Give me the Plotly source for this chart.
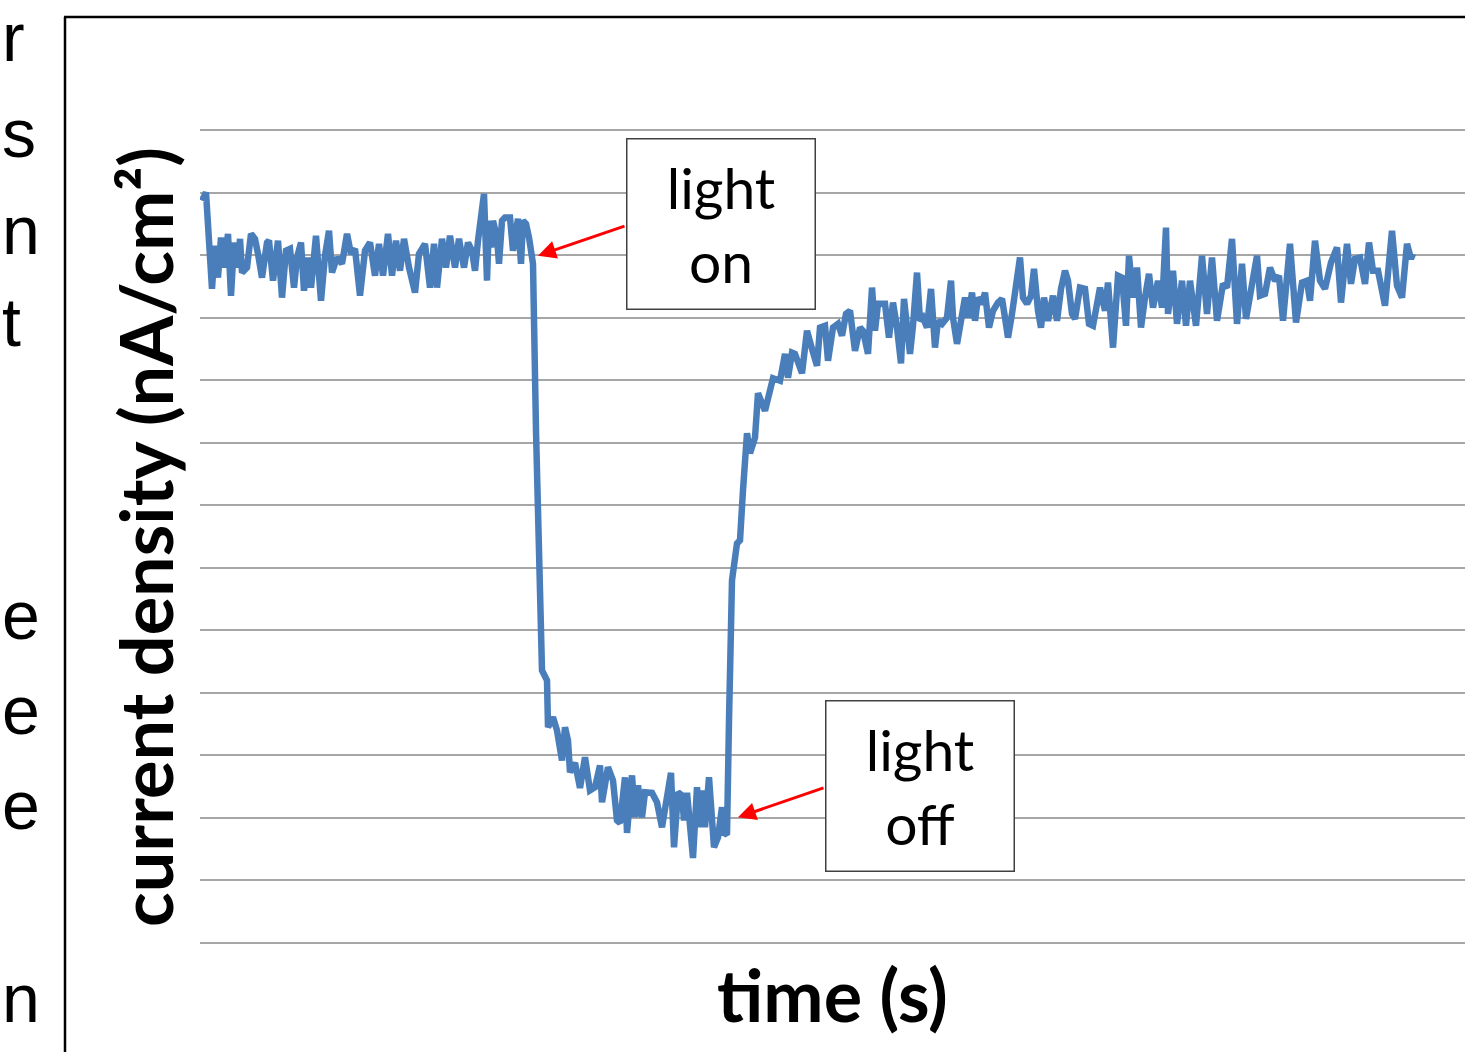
import plotly.graph_objects as go

# ---------------- data ----------------
time_s = [
    2, 6, 12, 15, 18, 21, 24, 28, 31, 34, 38, 40, 42, 47, 51, 55, 58, 62, 67, 69,
    73, 78, 82, 86, 90, 94, 97, 101, 104, 108, 111, 116, 121, 125, 129, 132, 137, 142, 147, 151,
    155, 160, 165, 170, 175, 179, 183, 188, 192, 196, 200, 204, 209, 215, 219, 225, 230, 234, 237, 242,
    246, 250, 255, 259, 264, 268, 272, 275, 278, 281, 284, 287, 289, 291, 293, 297, 299, 302, 305, 310,
    313, 318, 321, 323, 326, 329, 332, 333, 336, 338, 340, 342, 347, 348, 353, 357, 362, 365, 368, 370,
    375, 380, 385, 390, 395, 400, 402, 408, 413, 417, 420, 425, 427, 432, 435, 438, 442, 445, 452, 457,
    462, 467, 471, 474, 478, 482, 484, 487, 490, 493, 497, 500, 503, 505, 509, 514, 518, 522, 524, 527,
    529, 530, 532, 537, 540, 543, 547, 550, 555, 558, 565, 573, 580, 585, 588, 592, 595, 602, 607, 612,
    617, 620, 625, 628, 633, 638, 642, 646, 650, 655, 660, 663, 668, 672, 675, 678, 685, 689, 693, 697,
    701, 704, 707, 710, 713, 717, 720, 723, 727, 731, 735, 738, 742, 747, 751, 753, 757, 762, 765, 768,
    772, 775, 778, 782, 785, 789, 793, 798, 802, 805, 808, 812, 815, 820, 823, 827, 831, 834, 838, 841,
    844, 848, 853, 857, 861, 865, 868, 872, 875, 880, 885, 889, 893, 900, 905, 908, 913, 918, 922, 926,
    929, 933, 937, 941, 945, 949, 953, 958, 962, 966, 968, 973, 977, 982, 986, 990, 996, 1002, 1007, 1012,
    1017, 1023, 1027, 1032, 1037, 1042, 1046, 1052, 1057, 1060, 1065, 1070, 1075, 1079, 1083, 1090, 1096, 1102, 1107, 1110,
    1115, 1120, 1125, 1131, 1137, 1141, 1147, 1151, 1155, 1160, 1165, 1169, 1173, 1178, 1185, 1192, 1197, 1202, 1207, 1211,
    1213,
]

current_density = [
    11.87, 12.00, 10.46, 11.15, 10.64, 11.28, 10.80, 11.34, 10.35, 11.20, 10.80, 11.26, 10.72, 10.80, 11.34, 11.26, 11.02, 10.64, 11.20, 11.23,
    10.59, 11.23, 10.32, 11.07, 11.10, 10.48, 10.96, 11.20, 10.43, 10.96, 10.48, 11.31, 10.27, 10.99, 11.39, 10.72, 10.96, 10.86, 11.34, 11.02,
    11.10, 10.35, 11.07, 11.20, 10.67, 11.18, 10.67, 11.34, 10.67, 11.23, 10.75, 11.26, 10.80, 10.40, 11.02, 11.18, 10.48, 11.18, 10.48, 11.26,
    10.80, 11.31, 10.80, 11.26, 10.80, 11.20, 11.07, 10.75, 11.23, 11.58, 11.98, 10.59, 11.55, 11.12, 11.55, 11.28, 10.86, 11.55, 11.60, 11.60,
    11.07, 11.58, 10.86, 11.55, 11.50, 11.28, 10.96, 10.86, 8.19, 6.60, 5.00, 4.36, 4.20, 3.45, 3.61, 3.40, 2.92, 3.45, 3.24, 2.73,
    2.88, 2.48, 2.97, 2.44, 2.49, 2.84, 2.25, 2.81, 2.60, 1.96, 1.92, 2.65, 1.76, 2.68, 2.01, 2.52, 2.01, 2.41, 2.40, 2.25,
    1.85, 2.40, 2.72, 1.53, 2.41, 2.36, 1.96, 2.40, 1.76, 1.36, 2.49, 1.85, 2.44, 1.85, 2.65, 1.53, 1.69, 2.17, 1.76, 1.73,
    3.56, 5.00, 5.80, 6.39, 6.44, 7.24, 8.15, 7.83, 8.08, 8.79, 8.51, 9.03, 8.99, 9.42, 9.04, 9.44, 9.42, 9.11, 9.79, 9.50,
    9.23, 9.84, 9.87, 9.31, 9.84, 9.90, 9.71, 10.06, 10.11, 9.47, 9.84, 9.79, 9.42, 10.48, 9.79, 10.22, 10.22, 9.68, 10.24, 9.84,
    9.27, 10.30, 9.79, 9.42, 9.87, 10.72, 9.95, 10.00, 9.84, 10.46, 9.52, 9.95, 9.90, 10.00, 10.59, 10.00, 9.58, 10.16, 10.32, 10.00,
    10.40, 9.95, 10.32, 10.22, 10.40, 9.84, 10.11, 10.24, 10.30, 10.00, 9.68, 10.06, 10.40, 10.96, 10.32, 10.22, 10.35, 10.78, 10.11, 9.84,
    10.32, 9.95, 10.35, 9.95, 10.46, 10.75, 10.59, 10.06, 9.98, 10.48, 10.46, 9.90, 9.87, 10.48, 10.11, 10.56, 9.52, 10.67, 10.64, 9.87,
    10.99, 10.32, 10.80, 9.84, 10.32, 10.70, 10.16, 10.59, 10.16, 11.44, 10.06, 10.75, 9.90, 10.59, 9.87, 10.59, 9.87, 10.99, 10.06, 10.96,
    9.95, 10.54, 10.48, 11.26, 9.90, 10.86, 9.98, 10.48, 10.99, 10.35, 10.38, 10.80, 10.59, 10.67, 9.95, 11.18, 9.92, 10.56, 10.59, 10.27,
    11.23, 10.59, 10.46, 10.88, 11.12, 10.24, 11.18, 10.54, 10.94, 10.96, 10.54, 11.20, 10.75, 10.75, 10.19, 11.39, 10.51, 10.32, 11.18, 10.94,
    11.02,
]

# annotation labels / arrow endpoints (data units)
label_texts = ["light<br>on", "light<br>off"]
label_centers = [(521, 11.49), (720, 2.51)]
arrow_tips = [(338, 10.99), (538, 2.01)]
arrow_tails = [(426, 11.47), (625, 2.49)]

x_title = "time (s)"
y_title = "current density (nA/cm²)"

# slide text fragments visible at the left edge
side_texts = ["r", "s", "n", "t", "e", "e", "e", "n"]

# ---------------- layout helpers ----------------
W, H = 1465, 1052
GRID_PX = (943 - 130) / 13          # pixel height of one grid step
ML, MR, MT, MB = 200, 0, 120, 99    # plot area 10 px beyond the outer grid lines
PW, PH = W - ML - MR, H - MT - MB
Y_LO = -10 / GRID_PX
Y_HI = 13 + 10 / GRID_PX


def px(x):
    return (x - ML) / PW


def py(y):
    return (H - MB - y) / PH


fig = go.Figure()
fig.add_trace(go.Scatter(
    x=time_s, y=current_density, mode="lines",
    line=dict(color="#4A7EBB", width=6.5),
    hoverinfo="skip", showlegend=False,
))

annotations = []
for txt, (cx, cy) in zip(label_texts, label_centers):
    annotations.append(dict(
        x=cx, y=cy, xref="x", yref="y", text=txt, showarrow=False,
        font=dict(family="Lato", size=57, color="black"),
        width=187, height=169, bgcolor="white",
        bordercolor="#404040", borderwidth=1.5, borderpad=0,
        xanchor="center", yanchor="middle", align="center", valign="middle",
    ))
for (tx, ty), (ax, ay) in zip(arrow_tips, arrow_tails):
    annotations.append(dict(
        x=tx, y=ty, ax=ax, ay=ay, xref="x", yref="y", axref="x", ayref="y",
        text="", showarrow=True, arrowcolor="#FF0000", arrowwidth=3,
        arrowhead=2, arrowsize=1.2, standoff=0, startstandoff=0,
    ))
annotations.append(dict(
    x=px(832), y=py(994), xref="paper", yref="paper", text=f"<b>{x_title}</b>",
    showarrow=False, font=dict(family="Lato", size=72, color="black"),
    xanchor="center", yanchor="middle",
))
annotations.append(dict(
    x=px(145), y=py(537), xref="paper", yref="paper", text=f"<b>{y_title}</b>",
    showarrow=False, font=dict(family="Lato", size=72, color="black"),
    textangle=-90, xanchor="center", yanchor="middle",
))
side_mid = [37, 133, 230, 322, 615, 710, 805, 998]
for t, my in zip(side_texts, side_mid):
    annotations.append(dict(
        x=px(1), y=py(my), xref="paper", yref="paper", text=t, showarrow=False,
        font=dict(family="Liberation Sans", size=68, color="black"),
        xanchor="left", yanchor="middle", borderpad=0,
    ))

shapes = [
    dict(type="line", xref="paper", yref="paper", x0=px(65), x1=px(65), y0=py(17), y1=py(1060),
         line=dict(color="black", width=2.5)),
    dict(type="line", xref="paper", yref="paper", x0=px(64), x1=px(1470), y0=py(17), y1=py(17),
         line=dict(color="black", width=2.5)),
]

fig.update_layout(
    width=W, height=H,
    margin=dict(l=ML, r=MR, t=MT, b=MB, pad=0),
    paper_bgcolor="white", plot_bgcolor="white",
    xaxis=dict(range=[0, PW], showgrid=False, showticklabels=False, ticks="",
               zeroline=False, showline=False),
    yaxis=dict(range=[Y_LO, Y_HI], dtick=1, tick0=0, showgrid=True, gridcolor="#A6A6A6",
               gridwidth=1.5, showticklabels=False, ticks="", zeroline=False, showline=False),
    annotations=annotations, shapes=shapes,
)

fig.write_html(
    "out.html",
    config={"displayModeBar": False},
    post_script="document.body.style.margin='0';document.body.style.overflow='hidden';",
)
